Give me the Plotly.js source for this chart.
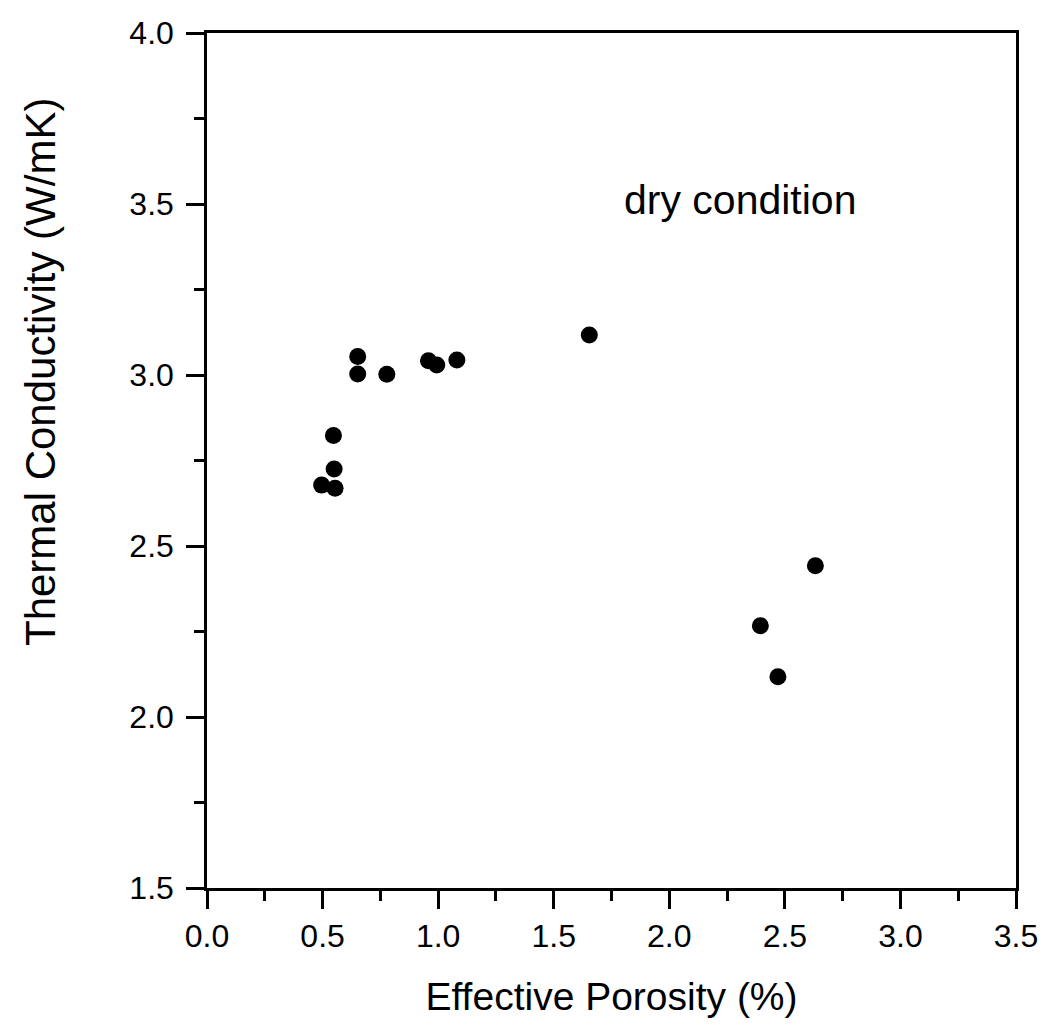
<!DOCTYPE html>
<html><head><meta charset="utf-8">
<script src="https://cdn.plot.ly/plotly-3.0.1.min.js"></script>
<style>body{margin:0;background:#fff}#plot{width:1045px;height:1029px}</style>
</head><body><div id="plot"></div>
<script>
const porosity = [0.652, 0.652, 0.778, 0.958, 0.994, 1.081, 0.547, 0.550, 0.496, 0.554, 1.654, 2.632, 2.394, 2.470];
const conductivity = [3.054, 3.003, 3.002, 3.042, 3.029, 3.044, 2.823, 2.725, 2.678, 2.669, 3.117, 2.442, 2.267, 2.118];
const xTicks = [0.0, 0.5, 1.0, 1.5, 2.0, 2.5, 3.0, 3.5];
const yTicks = [1.5, 2.0, 2.5, 3.0, 3.5, 4.0];
const fnt = "Liberation Sans, Arial, sans-serif";
const data = [{x: porosity, y: conductivity, mode: 'markers', type: 'scatter',
  marker: {color: '#000', size: 17}}];
const layout = {
  width: 1045, height: 1029, showlegend: false,
  paper_bgcolor: '#fff', plot_bgcolor: '#fff',
  margin: {l: 207, r: 29, t: 33, b: 141},
  font: {family: fnt, color: '#000'},
  xaxis: {range: [0, 3.5], tickvals: xTicks, ticktext: xTicks.map(v => v.toFixed(1)),
    ticks: 'outside', ticklen: 18, tickwidth: 2.5, tickcolor: '#000',
    minor: {dtick: 0.25, tick0: 0, ticks: 'outside', ticklen: 10, tickwidth: 2.5, tickcolor: '#000'},
    showline: true, linewidth: 2.5, linecolor: '#000', mirror: true, showgrid: false, zeroline: false,
    tickfont: {size: 32}, title: {text: 'Effective Porosity (%)', font: {size: 39}, standoff: 30}},
  yaxis: {range: [1.5, 4.0], tickvals: yTicks, ticktext: yTicks.map(v => v.toFixed(1)),
    ticks: 'outside', ticklen: 18, tickwidth: 2.5, tickcolor: '#000', ticklabelstandoff: 6,
    minor: {dtick: 0.25, tick0: 0, ticks: 'outside', ticklen: 10, tickwidth: 2.5, tickcolor: '#000'},
    showline: true, linewidth: 2.5, linecolor: '#000', mirror: true, showgrid: false, zeroline: false,
    tickfont: {size: 32}},
  annotations: [
    {x: 2.307, y: 3.512, xref: 'x', yref: 'y', text: 'dry condition', showarrow: false,
     font: {size: 41, family: fnt, color: '#000'}},
    {x: -0.2064, y: 0.6035, xref: 'paper', yref: 'paper', text: 'Thermal Conductivity (W/mK)',
     textangle: -90, showarrow: false, xanchor: 'center', yanchor: 'middle',
     font: {size: 42, family: fnt, color: '#000'}}
  ]
};
Plotly.newPlot('plot', data, layout, {displayModeBar: false});
</script></body></html>
